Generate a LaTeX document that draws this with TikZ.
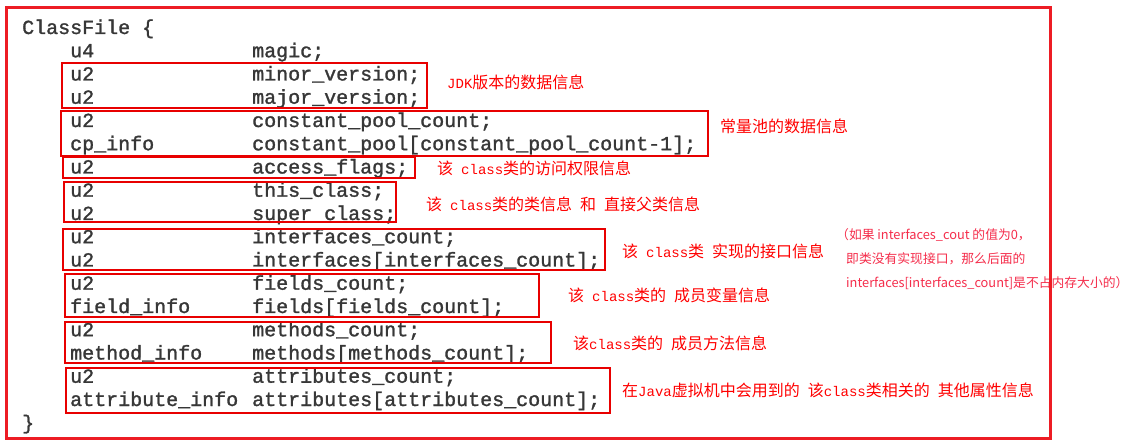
\documentclass[tikz,border=0pt]{standalone}
\usepackage{fontspec}
\newfontfamily\codefont[FakeBold=1.4]{Liberation Mono}
\newfontfamily\cjk{Noto Sans CJK SC}
\newfontfamily\latfont{Liberation Mono}
\definecolor{framered}{RGB}{237,28,36}
\definecolor{boxred}{RGB}{232,0,0}
\definecolor{annred}{RGB}{255,0,0}
\definecolor{notered}{RGB}{245,45,75}
\definecolor{codegray}{RGB}{55,55,55}
\newcommand\lat[1]{{\latfont\fontsize{14}{14}\selectfont #1}}
\newcommand\hs{\hspace{8pt}}
\begin{document}
\begin{tikzpicture}[x=1pt,y=-1pt,
  code/.style={anchor=base west, inner sep=0pt, font=\codefont\fontsize{20}{20}\selectfont, text=codegray},
  ann/.style={anchor=west, inner sep=0pt, font=\cjk\fontsize{16}{16}\selectfont, text=annred},
  note/.style={anchor=west, inner sep=0pt, font=\cjk\fontsize{12.8}{12.8}\selectfont, text=notered},
  grp/.style={draw=boxred, line width=1.3pt},
  frame/.style={draw=framered, line width=3pt}]
\useasboundingbox (0,0) rectangle (1129,443);
\fill[white] (0,0) rectangle (1129,443);
% code
\node[code] (head) at (22,34) {ClassFile \{};
\foreach \i/\a/\b in {
  1/u4/magic;,
  2/u2/minor\_version;,
  3/u2/major\_version;,
  4/u2/constant\_pool\_count;,
  5/cp\_info/constant\_pool[constant\_pool\_count-1];,
  6/u2/access\_flags;,
  7/u2/this\_class;,
  8/u2/super\_class;,
  9/u2/interfaces\_count;,
  10/u2/interfaces[interfaces\_count];,
  11/u2/fields\_count;,
  12/field\_info/fields[fields\_count];,
  13/u2/methods\_count;,
  14/method\_info/methods[methods\_count];,
  15/u2/attributes\_count;,
  16/attribute\_info/attributes[attributes\_count];}{
  \node[code] (l\i) at (70,{34+23.25*\i}) {\a};
  \node[code] (r\i) at (252,{34+23.25*\i}) {\b};
}
\node[code] (tail) at (22,{34+23.25*17}) {\}};
% group boxes
\draw[grp] (62,63) rectangle (427,108);
\draw[grp] (61,111) rectangle (708,156);
\draw[grp] (63,157) rectangle (415,178);
\draw[grp] (64,182) rectangle (396,222);
\draw[grp] (63,229) rectangle (605,270);
\draw[grp] (65,274) rectangle (539,317);
\draw[grp] (65,322) rectangle (551,363);
\draw[grp] (66,368) rectangle (610,413);
% annotations
\node[ann] (a1) at (447,82) {\lat{JDK}版本的数据信息};
\node[ann] (a2) at (720,126) {常量池的数据信息};
\node[ann] (a3) at (437,168) {该\hs\lat{class}类的访问权限信息};
\node[ann] (a4) at (426,204) {该\hs\lat{class}类的类信息\hs 和\hs 直接父类信息};
\node[ann] (a5) at (622,251) {该\hs\lat{class}类\hs 实现的接口信息};
\node[ann] (a6) at (568,295) {该\hs\lat{class}类的\hs 成员变量信息};
\node[ann] (a7) at (573,343) {该\lat{class}类的\hs 成员方法信息};
\node[ann] (a8) at (622,390) {在\lat{Java}虚拟机中会用到的\hs 该\lat{class}类相关的\hs 其他属性信息};
% note
\node[note] (n1) at (836,235) {（如果 interfaces\_cout 的值为0，};
\node[note] (n2) at (846,259) {即类没有实现接口，那么后面的};
\node[note] (n3) at (846,283) {interfaces[interfaces\_count]是不占内存大小的）};
% outer frame
\draw[frame] (6,8) rectangle (1050,438);
\end{tikzpicture}
\end{document}
